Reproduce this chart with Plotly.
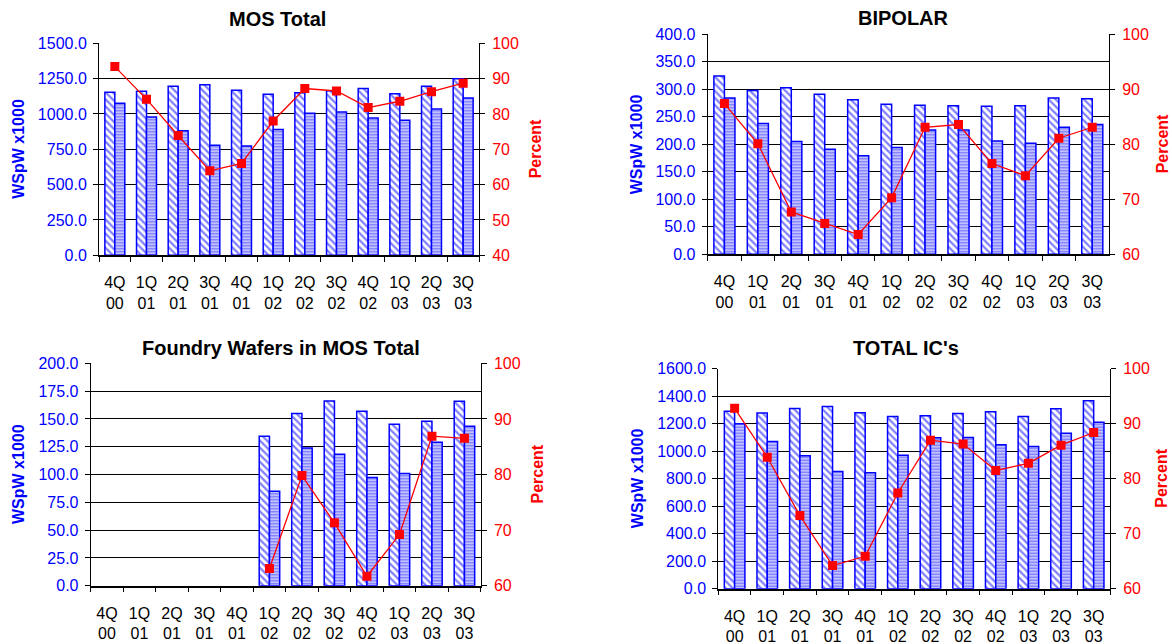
import plotly.graph_objects as go

quarters = ["4Q<br>00", "1Q<br>01", "2Q<br>01", "3Q<br>01", "4Q<br>01", "1Q<br>02",
            "2Q<br>02", "3Q<br>02", "4Q<br>02", "1Q<br>03", "2Q<br>03", "3Q<br>03"]

# MOS Total
mos_capacity = [1153, 1160, 1196, 1207, 1167, 1140, 1150, 1165, 1181, 1143, 1196, 1249]
mos_starts = [1075, 978, 881, 778, 773, 890, 1005, 1014, 971, 955, 1035, 1113]
mos_util = [93.4, 84.2, 73.9, 63.9, 66.0, 78.0, 87.2, 86.5, 81.8, 83.6, 86.3, 88.7]

# BIPOLAR
bip_capacity = [324, 298, 303, 291, 281, 273, 271, 270, 269, 270, 284, 283]
bip_starts = [284, 238, 205, 191, 179, 194, 226, 226, 206, 202, 231, 236]
bip_util = [87.4, 80.1, 67.7, 65.6, 63.6, 70.3, 83.1, 83.6, 76.5, 74.3, 81.1, 83.1]

# Foundry Wafers in MOS Total
fdy_capacity = [None, None, None, None, None, 134.3, 154.8, 166.1, 156.8, 145.2, 147.9, 165.8]
fdy_starts = [None, None, None, None, None, 84.9, 123.9, 118.2, 97.2, 100.8, 129.0, 143.4]
fdy_util = [None, None, None, None, None, 63.1, 79.8, 71.3, 61.7, 69.2, 86.9, 86.5]

# TOTAL IC's
tot_capacity = [1290, 1277, 1311, 1326, 1280, 1252, 1258, 1275, 1287, 1253, 1309, 1367]
tot_starts = [1200, 1071, 967, 853, 843, 970, 1098, 1100, 1047, 1035, 1130, 1210]
tot_util = [92.8, 83.9, 73.3, 64.2, 65.9, 77.4, 87.0, 86.3, 81.5, 82.8, 86.1, 88.4]

titles = ["MOS Total", "BIPOLAR", "Foundry Wafers in MOS Total", "TOTAL IC's"]

W, H = 1172, 644
FONT = "Arial, Liberation Sans, sans-serif"
BLUE = "#0000FF"
RED = "#FF0000"

panels = [
    dict(cap=mos_capacity, st=mos_starts, ut=mos_util, title=titles[0],
         px=(99, 479), py=(43.3, 255.3), yl=(0, 1500, 250), yr=(40, 100, 10),
         tx=277, ty=19, ytx=18.5, rtx=535),
    dict(cap=bip_capacity, st=bip_starts, ut=bip_util, title=titles[1],
         px=(707.7, 1109), py=(34.3, 254.3), yl=(0, 400, 50), yr=(60, 100, 10),
         tx=903, ty=18.5, ytx=636, rtx=1162),
    dict(cap=fdy_capacity, st=fdy_starts, ut=fdy_util, title=titles[2],
         px=(90.7, 480.7), py=(363.3, 585.7), yl=(0, 200, 25), yr=(60, 100, 10),
         tx=281, ty=347.5, ytx=18.5, rtx=537),
    dict(cap=tot_capacity, st=tot_starts, ut=tot_util, title=titles[3],
         px=(718.3, 1110), py=(368.7, 588.7), yl=(0, 1600, 200), yr=(60, 100, 10),
         tx=905.5, ty=348.3, ytx=637.5, rtx=1162),
]

fig = go.Figure()
layout = dict(
    width=W, height=H, margin=dict(l=0, r=0, t=0, b=0),
    paper_bgcolor="white", plot_bgcolor="white",
    showlegend=False, barmode="group", bargap=0.37, bargroupgap=0.0,
    font=dict(family=FONT, size=16, color="black"),
)
annotations = []

for i, p in enumerate(panels):
    n = i + 1
    xa = "x" if n == 1 else f"x{n}"
    yl_id = 2 * n - 1
    yr_id = 2 * n
    ya = "y" if yl_id == 1 else f"y{yl_id}"
    yb = f"y{yr_id}"

    fig.add_trace(go.Bar(
        x=quarters, y=p["cap"], xaxis=xa, yaxis=ya,
        marker=dict(color="white", line=dict(color=BLUE, width=1.5),
                    pattern=dict(shape="\\", fgcolor=BLUE, bgcolor="white",
                                 size=5, solidity=0.45)),
    ))
    fig.add_trace(go.Bar(
        x=quarters, y=p["st"], xaxis=xa, yaxis=ya,
        marker=dict(color="#d8d8ff", line=dict(color=BLUE, width=1.5),
                    pattern=dict(shape="-", fgcolor=BLUE, bgcolor="#dcdcff",
                                 size=3, solidity=0.5)),
    ))
    fig.add_trace(go.Scatter(
        x=quarters, y=p["ut"], xaxis=xa, yaxis=yb, mode="lines+markers",
        line=dict(color=RED, width=1.3),
        marker=dict(symbol="square", size=9, color=RED),
        connectgaps=False,
    ))

    x0, x1 = p["px"]
    ytop, ybot = p["py"]
    xdom = [x0 / W, x1 / W]
    ydom = [1 - ybot / H, 1 - ytop / H]
    lo, hi, dt = p["yl"]
    rlo, rhi, rdt = p["yr"]

    layout["xaxis" if n == 1 else f"xaxis{n}"] = dict(
        domain=xdom, anchor=ya, type="category", categoryorder="array",
        categoryarray=quarters, range=[-0.5, 11.5],
        showline=True, linecolor="black", linewidth=1.5,
        ticks="outside", tickson="boundaries", ticklen=5, tickcolor="black",
        tickfont=dict(family=FONT, size=16, color="black"),
        showgrid=False, zeroline=False, automargin=False,
        ticklabelstandoff=12,
    )
    layout["yaxis" if yl_id == 1 else f"yaxis{yl_id}"] = dict(
        domain=ydom, anchor=xa, range=[lo, hi], dtick=dt, tick0=0,
        tickformat=".1f", showline=True, linecolor="black", linewidth=1,
        ticks="outside", ticklen=5, tickcolor="black",
        tickfont=dict(family=FONT, size=16, color=BLUE),
        showgrid=True, gridcolor="black", gridwidth=1, zeroline=False,
        automargin=False, ticklabelstandoff=3,
    )
    layout[f"yaxis{yr_id}"] = dict(
        domain=ydom, anchor=xa, overlaying=ya, side="right",
        range=[rlo, rhi], dtick=rdt, tick0=rlo,
        showline=True, linecolor="black", linewidth=1,
        ticks="outside", ticklen=5, tickcolor="black",
        tickfont=dict(family=FONT, size=16, color=RED),
        showgrid=False, zeroline=False, automargin=False, ticklabelstandoff=4,
    )

    annotations.append(dict(
        text=f"<b>{p['title']}</b>", x=p["tx"] / W, y=1 - p["ty"] / H,
        xref="paper", yref="paper", xanchor="center", yanchor="middle",
        showarrow=False, font=dict(family=FONT, size=20, color="black"),
    ))
    ymid = 1 - (ytop + ybot) / 2 / H
    annotations.append(dict(
        text="<b>WSpW x1000</b>", x=p["ytx"] / W, y=ymid,
        xref="paper", yref="paper", xanchor="center", yanchor="middle",
        textangle=-90, showarrow=False,
        font=dict(family=FONT, size=16, color=BLUE),
    ))
    annotations.append(dict(
        text="<b>Percent</b>", x=p["rtx"] / W, y=ymid,
        xref="paper", yref="paper", xanchor="center", yanchor="middle",
        textangle=-90, showarrow=False,
        font=dict(family=FONT, size=16, color=RED),
    ))

layout["annotations"] = annotations
fig.update_layout(**layout)
fig.write_html(
    "out.html",
    config={"displayModeBar": False},
    post_script="document.body.style.margin='0';document.body.style.padding='0';"
                "document.body.style.overflow='hidden';",
)
